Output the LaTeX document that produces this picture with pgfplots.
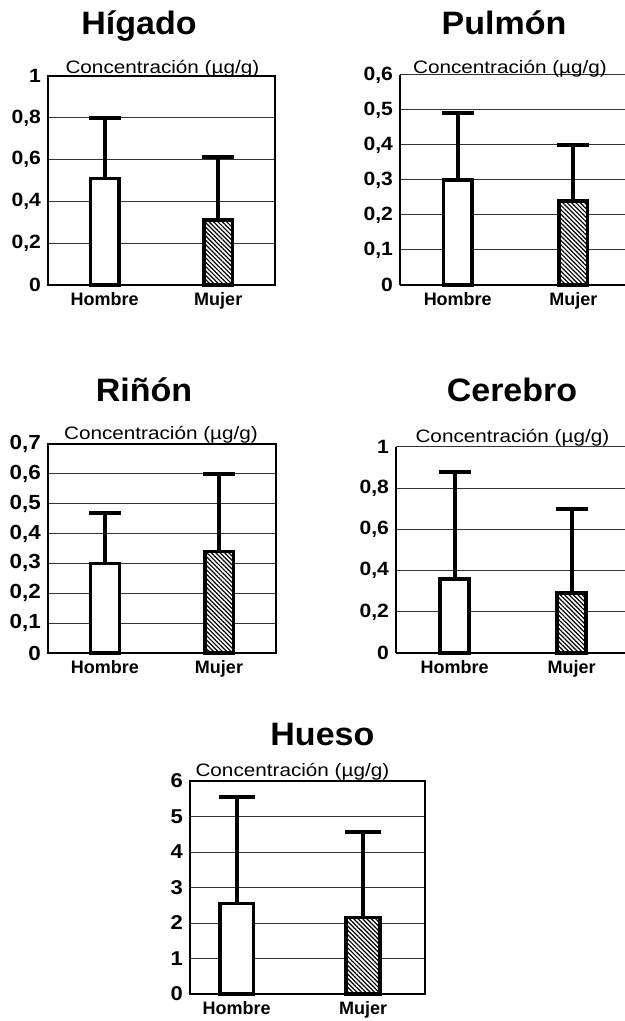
\documentclass[border=0pt]{standalone}
\usepackage{fontspec}
\setmainfont{Liberation Sans}
\newfontfamily\ttl{Liberation Sans}[FakeStretch=1.05]
\newfontfamily\tck{Liberation Sans}[FakeStretch=1.1]
\newfontfamily\cnc{Liberation Sans}[FakeStretch=1.15]
\usepackage{pgfplots}
\pgfplotsset{compat=1.18}
\usetikzlibrary{patterns.meta}

\pgfplotsset{
  panel/.style={
    anchor=south west, scale only axis,
    ybar, bar shift=0pt,
    axis line style={line width=0.8pt},
    ymajorgrids, grid style={line width=0.5pt, black!80},
    major tick length=0pt,
    xtick={0,1}, xticklabels={Hombre,Mujer},
    yticklabel style={font=\tck\bfseries\fontsize{9.6}{11}\selectfont},
    xticklabel style={font=\bfseries\fontsize{9}{11}\selectfont},
    ymin=0, clip=false,
  },
  bars/.style={draw=black, line width=1.8pt, bar width=#1,
    error bars/y dir=plus, error bars/y explicit,
    error bars/error bar style={line width=2pt, black},
    error bars/error mark options={rotate=90, line width=2pt, mark size=8pt, black}},
  bars/.default=14.3pt,
  hombre/.style={bars=#1, fill=white},
  hombre/.default=14.3pt,
  mujer/.style={bars=#1, fill=white,
    postaction={pattern={Lines[angle=-45, distance=1.55pt, line width=0.6pt]}}},
  mujer/.default=14.3pt,
}

\begin{document}
\begin{tikzpicture}
\useasboundingbox (0,0) rectangle (312.5pt,510.5pt);

% Higado
\begin{axis}[panel, at={(24pt,368pt)}, width=113.5pt, height=104.5pt,
  xmin=-0.5, xmax=1.5, ymax=1,
  ytick={0,0.2,0.4,0.6,0.8,1}, yticklabels={0,{0,2},{0,4},{0,6},{0,8},1}]
\addplot[hombre] coordinates {(0,0.51) +- (0,0.29)};
\addplot[mujer] coordinates {(1,0.31) +- (0,0.30)};
\end{axis}

% Pulmon
\begin{axis}[panel, at={(200pt,368pt)}, width=112.5pt, height=105pt,
  axis lines=left, axis line style={-},
  xmin=-0.5, xmax=1.448, ymax=0.6,
  ytick={0,0.1,0.2,0.3,0.4,0.5,0.6},
  yticklabels={0,{0,1},{0,2},{0,3},{0,4},{0,5},{0,6}}]
\addplot[hombre] coordinates {(0,0.30) +- (0,0.19)};
\addplot[mujer] coordinates {(1,0.24) +- (0,0.16)};
\end{axis}

% Rinon
\begin{axis}[panel, at={(24pt,184pt)}, width=114pt, height=104.5pt,
  xmin=-0.5, xmax=1.5, ymax=0.7,
  yticklabel style={font=\tck\bfseries\fontsize{10.2}{12}\selectfont},
  ytick={0,0.1,0.2,0.3,0.4,0.5,0.6,0.7},
  yticklabels={0,{0,1},{0,2},{0,3},{0,4},{0,5},{0,6},{0,7}}]
\addplot[hombre] coordinates {(0,0.30) +- (0,0.17)};
\addplot[mujer] coordinates {(1,0.34) +- (0,0.26)};
\end{axis}

% Cerebro
\begin{axis}[panel, at={(198pt,184pt)}, width=114.5pt, height=103pt,
  axis lines=left, axis line style={-},
  xmin=-0.5, xmax=1.457, ymax=1,
  ytick={0,0.2,0.4,0.6,0.8,1}, yticklabels={0,{0,2},{0,4},{0,6},{0,8},1}]
\addplot[hombre] coordinates {(0,0.36) +- (0,0.52)};
\addplot[mujer] coordinates {(1,0.29) +- (0,0.41)};
\end{axis}

% Hueso
\begin{axis}[panel, at={(95pt,13.5pt)}, width=117.5pt, height=106.5pt,
  xmin=-0.368, xmax=1.49, ymax=6,
  yticklabel style={font=\tck\bfseries\fontsize{10}{12}\selectfont},
  ytick={0,1,2,3,4,5,6}, yticklabels={0,1,2,3,4,5,6}]
\addplot[hombre=16.8pt, error bars/error mark options={rotate=90, line width=2pt, mark size=9pt, black}]
  coordinates {(0,2.55) +- (0,3.0)};
\addplot[mujer=16.8pt, error bars/error mark options={rotate=90, line width=2pt, mark size=9pt, black}]
  coordinates {(1,2.15) +- (0,2.4)};
\end{axis}

% titles
\begin{scope}[every node/.style={anchor=base, inner sep=0pt}]
\node[font=\ttl\bfseries\fontsize{16.2}{18}\selectfont] at (69.5pt,493pt) {Hígado};
\node[font=\ttl\bfseries\fontsize{16.2}{18}\selectfont] at (252pt,493pt) {Pulmón};
\node[font=\ttl\bfseries\fontsize{16.2}{18}\selectfont] at (72pt,309.6pt) {Riñón};
\node[font=\ttl\bfseries\fontsize{16.2}{18}\selectfont] at (256pt,309.5pt) {Cerebro};
\node[font=\ttl\bfseries\fontsize{16.2}{18}\selectfont] at (161.2pt,137.6pt) {Hueso};
\node[font=\cnc\fontsize{9}{10}\selectfont] at (81.2pt,473.5pt) {Concentración (µg/g)};
\node[font=\cnc\fontsize{9}{10}\selectfont] at (255pt,473.5pt) {Concentración (µg/g)};
\node[font=\cnc\fontsize{9}{10}\selectfont] at (80.5pt,290.8pt) {Concentración (µg/g)};
\node[font=\cnc\fontsize{9}{10}\selectfont] at (256.2pt,289pt) {Concentración (µg/g)};
\node[font=\cnc\fontsize{9}{10}\selectfont] at (146.2pt,122.1pt) {Concentración (µg/g)};
\end{scope}
\end{tikzpicture}
\end{document}
